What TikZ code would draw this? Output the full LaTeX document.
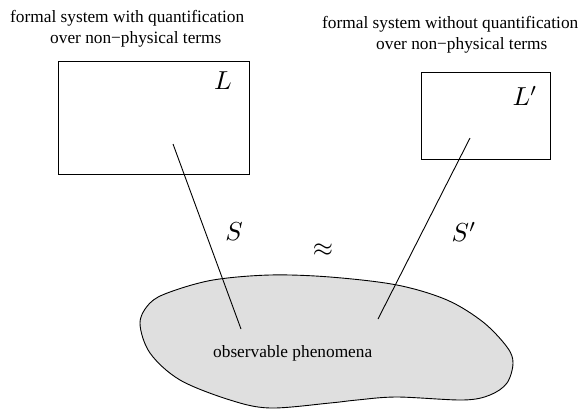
\documentclass[tikz,border=0pt]{standalone}
\usepackage{fontspec}
\setmainfont{Liberation Serif}
\begin{document}
\begin{tikzpicture}[x=1pt,y=-1pt,
  lbl/.style={font=\fontsize{17.3}{20}\selectfont, inner sep=0pt, anchor=base west},
  mlbl/.style={font=\normalsize, inner sep=0pt, scale=2.6},
  boxst/.style={draw, line width=0.9pt},
  conn/.style={line width=0.9pt}]
\useasboundingbox (0,0) rectangle (580,410);
% blob
\draw[line width=0.9pt, fill=gray!25] plot[smooth cycle, tension=0.55] coordinates {
 (140,323) (150,303) (170,292) (213,280) (270,275) (330,277) (397,285)
 (447,300) (483,322) (507,347) (513,363) (507,383) (490,395) (463,400)
 (397,397) (357,400) (330,403) (270,408) (230,400) (180,380) (150,353)};
% boxes
\node[boxst, minimum width=191pt, minimum height=113pt, inner sep=0pt] (bl) at (153.5,117.5) {};
\node[boxst, minimum width=129pt, minimum height=87pt, inner sep=0pt] (br) at (485.5,115.5) {};
% labels
\node[lbl] (t1) at (10,22) {formal system with quantification};
\node[lbl] (t2) at (50,43) {over non−physical terms};
\node[lbl] (t3) at (322,28) {formal system without quantification};
\node[lbl] (t4) at (376,49) {over non−physical terms};
\node[lbl] (obs) at (213,357) {observable phenomena};
\node[mlbl] (L) at (223,81) {$L$};
\node[mlbl] (Lp) at (525,96) {$L'$};
\node[mlbl] (S) at (234,232) {$S$};
\node[mlbl] (Sp) at (464,232) {$S'$};
\node[mlbl] (ap) at (323,250) {$\approx$};
% connectors
\coordinate (a1) at (173,144);
\coordinate (a2) at (241,329);
\coordinate (b1) at (470,138);
\coordinate (b2) at (378,319);
\draw[conn] (a1) -- (a2);
\draw[conn] (b1) -- (b2);
\end{tikzpicture}
\end{document}
